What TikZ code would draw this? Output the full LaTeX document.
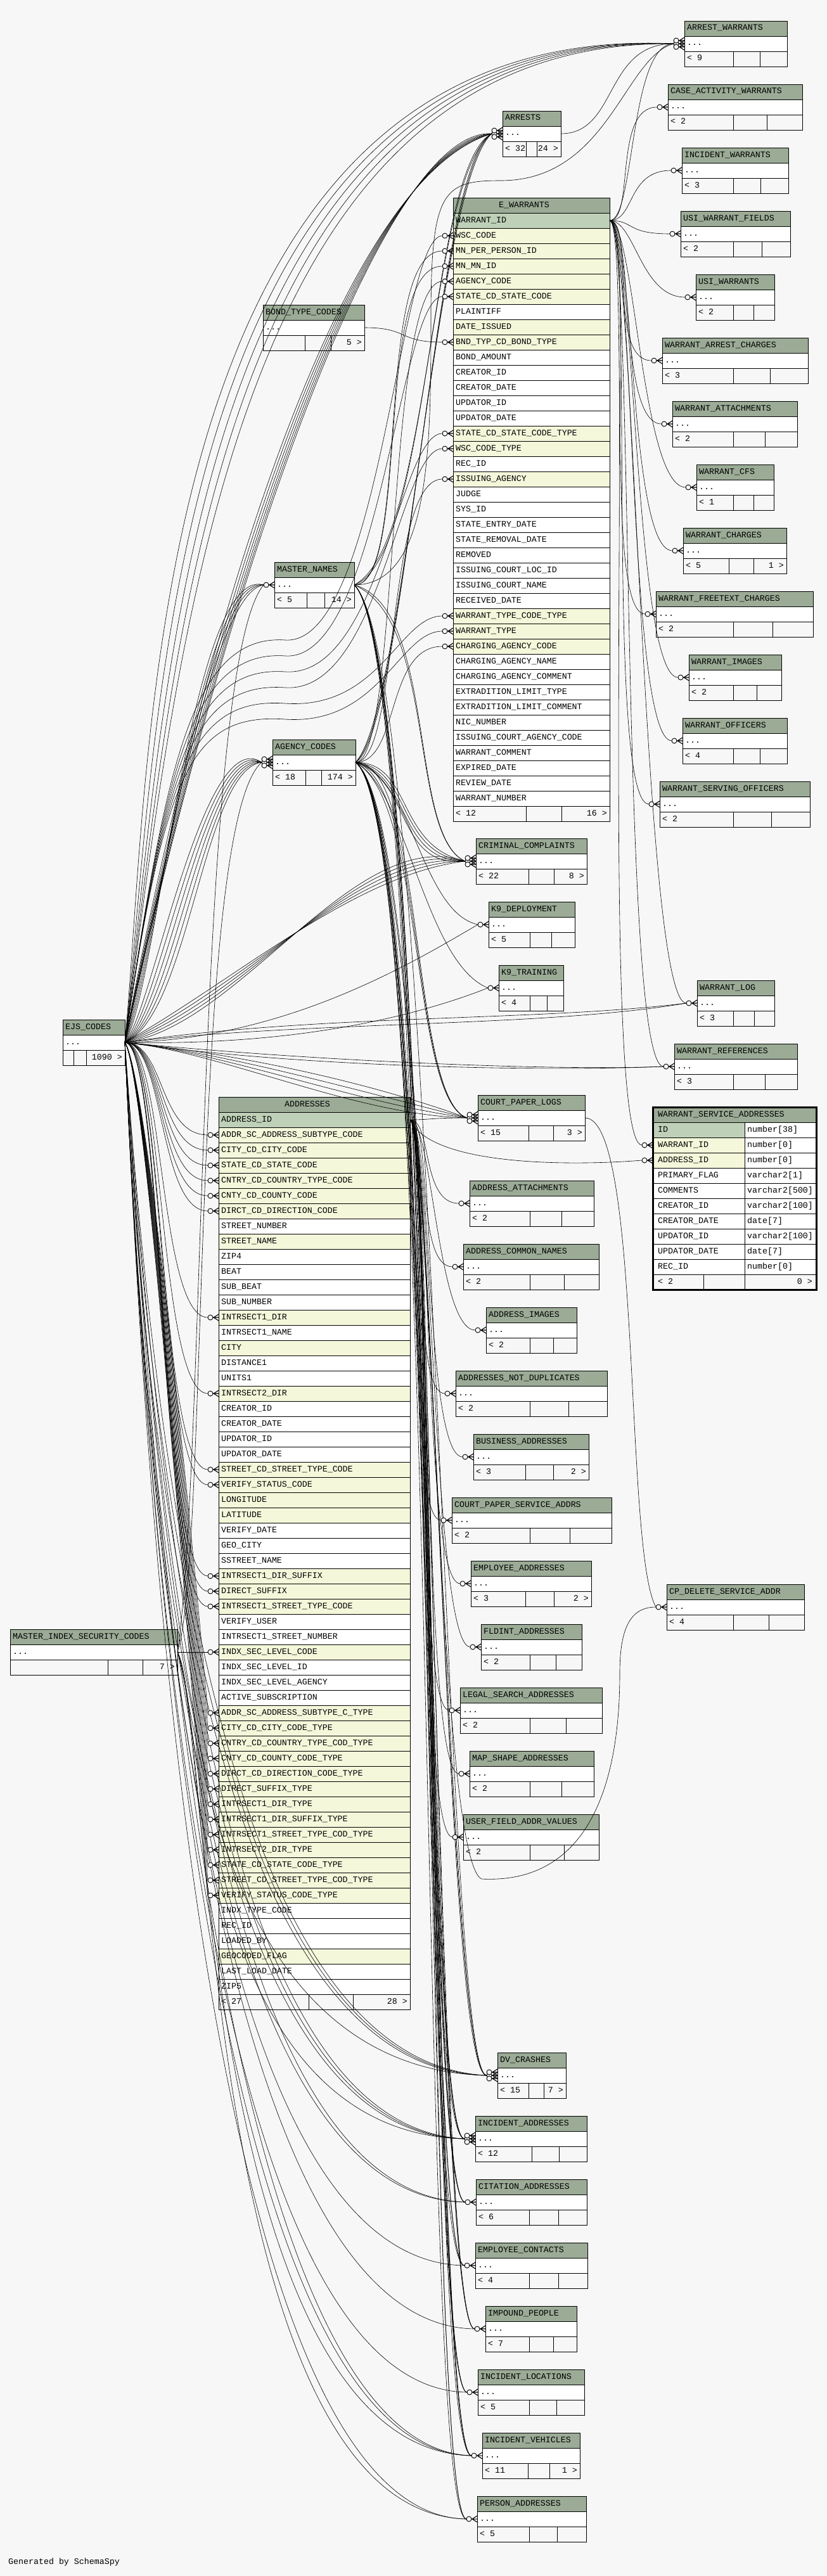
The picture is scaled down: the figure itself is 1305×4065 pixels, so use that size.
\documentclass[tikz,border=0pt]{standalone}
\usepackage{fontspec}
\newfontfamily\erfont{Liberation Mono}

\definecolor{headbg}{HTML}{9BAB96}
\definecolor{pkbg}{HTML}{BED1B8}
\definecolor{idxbg}{HTML}{F4F7DA}
\definecolor{pagebg}{HTML}{F7F7F7}

% collapsed table: name, left, right, top, title, parents, div1, div2, children
\newcommand\minitab[9]{%
  \fill[headbg] (#2,#4) rectangle (#3,#4+24);
  \fill[white] (#2,#4+24) rectangle (#3,#4+48);
  \draw[tabline] (#2,#4) rectangle (#3,#4+72)
    (#2,#4+24) -- (#3,#4+24) (#2,#4+48) -- (#3,#4+48)
    (#7,#4+48) -- (#7,#4+72) (#8,#4+48) -- (#8,#4+72);
  \node[coltext] (#1-title) at (#2+4,#4+15) {#5};
  \node[coltext] (#1-dots) at (#2+4,#4+39) {...};
  \node[coltext] (#1-up) at (#2+4,#4+63) {#6};
  \node[coltext, anchor=base east] (#1-down) at (#3-4,#4+63) {#9};
  \coordinate (#1) at (#2-17,#4+36);
  \coordinate (#1-w) at (#2,#4+36);
  \coordinate (#1-out) at (#3,#4+36);
}

\begin{document}
\begin{tikzpicture}[x=1pt,y=-1pt]
\tikzset{
  tabline/.style={draw=black, line width=0.8pt},
  coltext/.style={anchor=base west, inner sep=0pt, font=\erfont\fontsize{13.3}{15}\selectfont},
  fkline/.style={line width=0.6pt},
  crow/.pic={
    \draw[line width=0.9pt, fill=pagebg] (-13,0) circle[radius=4];
    \draw[line width=1.1pt] (-9,0) -- (0,0) (-8,0) -- (0,-5) (-8,0) -- (0,5);
  }
}
\useasboundingbox (0,0) rectangle (1305,4065);
\fill[pagebg] (0,0) rectangle (1305,4065);

% E_WARRANTS
\fill[headbg] (715,312) rectangle (962,336);
\foreach \c/\f [count=\i] in {WARRANT\_ID/pkbg,WSC\_CODE/idxbg,MN\_PER\_PERSON\_ID/idxbg,MN\_MN\_ID/idxbg,
  AGENCY\_CODE/idxbg,STATE\_CD\_STATE\_CODE/idxbg,PLAINTIFF/white,DATE\_ISSUED/idxbg,
  BND\_TYP\_CD\_BOND\_TYPE/idxbg,BOND\_AMOUNT/white,CREATOR\_ID/white,CREATOR\_DATE/white,
  UPDATOR\_ID/white,UPDATOR\_DATE/white,STATE\_CD\_STATE\_CODE\_TYPE/idxbg,WSC\_CODE\_TYPE/idxbg,
  REC\_ID/white,ISSUING\_AGENCY/idxbg,JUDGE/white,SYS\_ID/white,STATE\_ENTRY\_DATE/white,
  STATE\_REMOVAL\_DATE/white,REMOVED/white,ISSUING\_COURT\_LOC\_ID/white,ISSUING\_COURT\_NAME/white,
  RECEIVED\_DATE/white,WARRANT\_TYPE\_CODE\_TYPE/idxbg,WARRANT\_TYPE/idxbg,CHARGING\_AGENCY\_CODE/idxbg,
  CHARGING\_AGENCY\_NAME/white,CHARGING\_AGENCY\_COMMENT/white,EXTRADITION\_LIMIT\_TYPE/white,
  EXTRADITION\_LIMIT\_COMMENT/white,NIC\_NUMBER/white,ISSUING\_COURT\_AGENCY\_CODE/white,
  WARRANT\_COMMENT/white,EXPIRED\_DATE/white,REVIEW\_DATE/white,WARRANT\_NUMBER/white} {
  \fill[\f] (715,312+24*\i) rectangle (962,336+24*\i);
  \draw[tabline] (715,312+24*\i) -- (962,312+24*\i);
  \node[coltext] (ew-\i) at (719,327+24*\i) {\c};
  \coordinate (ew-\i-w) at (715,324+24*\i);
  \coordinate (ew-\i-in) at (698,324+24*\i);
  \coordinate (ew-\i-e) at (962,324+24*\i);
}
\draw[tabline] (715,312) rectangle (962,1296) (715,1272) -- (962,1272)
  (830,1272) -- (830,1296) (886,1272) -- (886,1296);
\node[coltext, anchor=base] (ew-title) at (827,327) {E\_WARRANTS};
\node[coltext] (ew-up) at (719,1287) {< 12};
\node[coltext, anchor=base east] (ew-down) at (958,1287) {16 >};

% ADDRESSES
\fill[headbg] (345,1731) rectangle (647,1755);
\foreach \c/\f [count=\i] in {ADDRESS\_ID/pkbg,ADDR\_SC\_ADDRESS\_SUBTYPE\_CODE/idxbg,CITY\_CD\_CITY\_CODE/idxbg,
  STATE\_CD\_STATE\_CODE/idxbg,CNTRY\_CD\_COUNTRY\_TYPE\_CODE/idxbg,CNTY\_CD\_COUNTY\_CODE/idxbg,
  DIRCT\_CD\_DIRECTION\_CODE/idxbg,STREET\_NUMBER/white,STREET\_NAME/idxbg,ZIP4/white,BEAT/white,
  SUB\_BEAT/white,SUB\_NUMBER/white,INTRSECT1\_DIR/idxbg,INTRSECT1\_NAME/white,CITY/idxbg,
  DISTANCE1/white,UNITS1/white,INTRSECT2\_DIR/idxbg,CREATOR\_ID/white,CREATOR\_DATE/white,
  UPDATOR\_ID/white,UPDATOR\_DATE/white,STREET\_CD\_STREET\_TYPE\_CODE/idxbg,VERIFY\_STATUS\_CODE/idxbg,
  LONGITUDE/idxbg,LATITUDE/idxbg,VERIFY\_DATE/white,GEO\_CITY/white,SSTREET\_NAME/white,
  INTRSECT1\_DIR\_SUFFIX/idxbg,DIRECT\_SUFFIX/idxbg,INTRSECT1\_STREET\_TYPE\_CODE/idxbg,VERIFY\_USER/white,
  INTRSECT1\_STREET\_NUMBER/white,INDX\_SEC\_LEVEL\_CODE/idxbg,INDX\_SEC\_LEVEL\_ID/white,
  INDX\_SEC\_LEVEL\_AGENCY/white,ACTIVE\_SUBSCRIPTION/white,ADDR\_SC\_ADDRESS\_SUBTYPE\_C\_TYPE/idxbg,
  CITY\_CD\_CITY\_CODE\_TYPE/idxbg,CNTRY\_CD\_COUNTRY\_TYPE\_COD\_TYPE/idxbg,CNTY\_CD\_COUNTY\_CODE\_TYPE/idxbg,
  DIRCT\_CD\_DIRECTION\_CODE\_TYPE/idxbg,DIRECT\_SUFFIX\_TYPE/idxbg,INTRSECT1\_DIR\_TYPE/idxbg,
  INTRSECT1\_DIR\_SUFFIX\_TYPE/idxbg,INTRSECT1\_STREET\_TYPE\_COD\_TYPE/idxbg,INTRSECT2\_DIR\_TYPE/idxbg,
  STATE\_CD\_STATE\_CODE\_TYPE/idxbg,STREET\_CD\_STREET\_TYPE\_COD\_TYPE/idxbg,VERIFY\_STATUS\_CODE\_TYPE/idxbg,
  INDX\_TYPE\_CODE/white,REC\_ID/white,LOADED\_BY/white,GEOCODED\_FLAG/idxbg,LAST\_LOAD\_DATE/white,
  ZIP5/white} {
  \fill[\f] (345,1731+24*\i) rectangle (647,1755+24*\i);
  \draw[tabline] (345,1731+24*\i) -- (647,1731+24*\i);
  \node[coltext] (ad-\i) at (349,1746+24*\i) {\c};
  \coordinate (ad-\i-w) at (345,1743+24*\i);
  \coordinate (ad-\i-in) at (328,1743+24*\i);
  \coordinate (ad-\i-e) at (647,1743+24*\i);
}
\draw[tabline] (345,1731) rectangle (647,3171) (345,3147) -- (647,3147)
  (487,3147) -- (487,3171) (557,3147) -- (557,3171);
\node[coltext, anchor=base] (ad-title) at (485,1746) {ADDRESSES};
\node[coltext] (ad-up) at (349,3162) {< 27};
\node[coltext, anchor=base east] (ad-down) at (643,3162) {28 >};

% WARRANT_SERVICE_ADDRESSES
\fill[headbg] (1030,1747) rectangle (1288,1771);
\foreach \c/\d/\f [count=\i] in {ID/number[38]/pkbg,WARRANT\_ID/number[0]/idxbg,ADDRESS\_ID/number[0]/idxbg,
  PRIMARY\_FLAG/varchar2[1]/white,COMMENTS/varchar2[500]/white,CREATOR\_ID/varchar2[100]/white,
  CREATOR\_DATE/date[7]/white,UPDATOR\_ID/varchar2[100]/white,UPDATOR\_DATE/date[7]/white,
  REC\_ID/number[0]/white} {
  \fill[\f] (1030,1747+24*\i) rectangle (1175,1771+24*\i);
  \fill[white] (1175,1747+24*\i) rectangle (1288,1771+24*\i);
  \draw[tabline] (1030,1747+24*\i) -- (1288,1747+24*\i);
  \node[coltext] (wsa-\i) at (1038,1762+24*\i) {\c};
  \node[coltext] (wsa-\i-type) at (1179,1762+24*\i) {\d};
  \coordinate (wsa-\i-w) at (1030,1759+24*\i);
  \coordinate (wsa-\i-in) at (1013,1759+24*\i);
}
\draw[tabline] (1175,1771) -- (1175,2035) (1030,2011) -- (1288,2011) (1110,2011) -- (1110,2035);
\draw[line width=3pt] (1030,1747) rectangle (1288,2035);
\node[coltext] (wsa-title) at (1038,1762) {WARRANT\_SERVICE\_ADDRESSES};
\node[coltext] (wsa-up) at (1038,2026) {< 2};
\node[coltext, anchor=base east] (wsa-down) at (1282,2026) {0 >};

% collapsed tables
\minitab{arrestwarrants}{1080}{1242}{33}{ARREST\_WARRANTS}{< 9}{1157}{1199}{}
\minitab{caseactivity}{1054}{1266}{133}{CASE\_ACTIVITY\_WARRANTS}{< 2}{1157}{1210}{}
\minitab{arrests}{793}{885}{175}{ARRESTS}{< 32}{830}{847}{24 >}
\minitab{incidentwarrants}{1076}{1244}{233}{INCIDENT\_WARRANTS}{< 3}{1157}{1200}{}
\minitab{usifields}{1074}{1247}{333}{USI\_WARRANT\_FIELDS}{< 2}{1157}{1202}{}
\minitab{usiwarrants}{1098}{1222}{433}{USI\_WARRANTS}{< 2}{1157}{1189}{}
\minitab{warrestcharges}{1045}{1275}{533}{WARRANT\_ARREST\_CHARGES}{< 3}{1157}{1215}{}
\minitab{wattachments}{1061}{1258}{633}{WARRANT\_ATTACHMENTS}{< 2}{1157}{1207}{}
\minitab{wcfs}{1099}{1221}{733}{WARRANT\_CFS}{< 1}{1157}{1189}{}
\minitab{wcharges}{1078}{1241}{833}{WARRANT\_CHARGES}{< 5}{1150}{1189}{1 >}
\minitab{wfreetext}{1035}{1283}{933}{WARRANT\_FREETEXT\_CHARGES}{< 2}{1157}{1219}{}
\minitab{wimages}{1087}{1233}{1033}{WARRANT\_IMAGES}{< 2}{1157}{1194}{}
\minitab{wofficers}{1077}{1242}{1133}{WARRANT\_OFFICERS}{< 4}{1157}{1199}{}
\minitab{wserving}{1041}{1278}{1233}{WARRANT\_SERVING\_OFFICERS}{< 2}{1157}{1217}{}
\minitab{bondtype}{415}{575}{481}{BOND\_TYPE\_CODES}{}{481}{522}{5 >}
\minitab{mastername}{433}{559}{887}{MASTER\_NAMES}{< 5}{484}{512}{14 >}
\minitab{agencycodes}{430}{561}{1167}{AGENCY\_CODES}{< 18}{482}{507}{174 >}
\minitab{crimcomplaints}{751}{926}{1323}{CRIMINAL\_COMPLAINTS}{< 22}{834}{874}{8 >}
\minitab{k9deploy}{771}{907}{1423}{K9\_DEPLOYMENT}{< 5}{836}{870}{}
\minitab{k9train}{787}{889}{1523}{K9\_TRAINING}{< 4}{836}{863}{}
\minitab{wlog}{1100}{1222}{1547}{WARRANT\_LOG}{< 3}{1157}{1190}{}
\minitab{wrefs}{1064}{1258}{1647}{WARRANT\_REFERENCES}{< 3}{1157}{1207}{}
\minitab{ejscodes}{99}{197}{1609}{EJS\_CODES}{}{116}{136}{1090 >}
\minitab{courtpaperlogs}{754}{923}{1728}{COURT\_PAPER\_LOGS}{< 15}{834}{873}{3 >}
\minitab{addrattach}{741}{937}{1863}{ADDRESS\_ATTACHMENTS}{< 2}{836}{886}{}
\minitab{addrcommon}{731}{945}{1963}{ADDRESS\_COMMON\_NAMES}{< 2}{836}{890}{}
\minitab{addrimages}{767}{910}{2063}{ADDRESS\_IMAGES}{< 2}{836}{873}{}
\minitab{addrnotdup}{719}{958}{2163}{ADDRESSES\_NOT\_DUPLICATES}{< 2}{836}{897}{}
\minitab{bizaddr}{747}{929}{2263}{BUSINESS\_ADDRESSES}{< 3}{829}{873}{2 >}
\minitab{cpsa}{713}{965}{2363}{COURT\_PAPER\_SERVICE\_ADDRS}{< 2}{836}{899}{}
\minitab{empaddr}{743}{933}{2463}{EMPLOYEE\_ADDRESSES}{< 3}{829}{874}{2 >}
\minitab{fldint}{759}{918}{2563}{FLDINT\_ADDRESSES}{< 2}{836}{877}{}
\minitab{legalsearch}{726}{950}{2663}{LEGAL\_SEARCH\_ADDRESSES}{< 2}{836}{893}{}
\minitab{mapshape}{741}{937}{2763}{MAP\_SHAPE\_ADDRESSES}{< 2}{836}{886}{}
\minitab{userfield}{731}{945}{2863}{USER\_FIELD\_ADDR\_VALUES}{< 2}{836}{890}{}
\minitab{cpdelete}{1052}{1269}{2500}{CP\_DELETE\_SERVICE\_ADDR}{< 4}{1157}{1213}{}
\minitab{masterindex}{16}{280}{2571}{MASTER\_INDEX\_SECURITY\_CODES}{}{170}{225}{7 >}
\minitab{dvcrashes}{785}{893}{3239}{DV\_CRASHES}{< 15}{834}{858}{7 >}
\minitab{incaddr}{750}{926}{3339}{INCIDENT\_ADDRESSES}{< 12}{839}{882}{}
\minitab{citaddr}{751}{926}{3439}{CITATION\_ADDRESSES}{< 6}{835}{881}{}
\minitab{empcontacts}{750}{927}{3539}{EMPLOYEE\_CONTACTS}{< 4}{835}{881}{}
\minitab{impound}{766}{910}{3639}{IMPOUND\_PEOPLE}{< 7}{835}{873}{}
\minitab{incloc}{754}{922}{3739}{INCIDENT\_LOCATIONS}{< 5}{835}{878}{}
\minitab{incveh}{761}{915}{3839}{INCIDENT\_VEHICLES}{< 11}{833}{867}{1 >}
\minitab{personaddr}{753}{925}{3939}{PERSON\_ADDRESSES}{< 5}{835}{879}{}

% warrant children
\foreach \t in {arrestwarrants,caseactivity,incidentwarrants,usifields,usiwarrants,warrestcharges,
  wattachments,wcfs,wcharges,wfreetext,wimages,wofficers,wserving,wlog,wrefs,wsa-2-in}
  \draw[fkline] (ew-1-e) .. controls +(40,0) and +(-70,0) .. (\t);
\draw[fkline] (arrests-out) .. controls +(90,0) and +(-110,0) .. (arrestwarrants);

% address children
\foreach \t in {courtpaperlogs,addrattach,addrcommon,addrimages,addrnotdup,bizaddr,cpsa,empaddr,fldint,
  legalsearch,mapshape,userfield,dvcrashes,incaddr,citaddr,empcontacts,impound,incloc,incveh,personaddr}
  \draw[fkline] (ad-1-e) .. controls +(35,0) and +(-60,0) .. (\t);
\draw[fkline] (ad-1-e) .. controls (680,1840) and (900,1840) .. (wsa-3-in);
\draw[fkline] (ad-1-e) .. controls +(35,0) and (690,2935) .. (760,2965)
  .. controls (960,2975) and (978,2750) .. (978,2640) .. controls (978,2560) and (1000,2536) .. (cpdelete);
\draw[fkline] (courtpaperlogs-out) .. controls +(90,0) and +(-50,-90) .. (cpdelete);

% code tables into e_warrants
\draw[fkline] (bondtype-out) .. controls +(70,0) and +(-70,0) .. (ew-9-in);
\foreach \r in {3,4}
  \draw[fkline] (mastername-out) .. controls +(90,0) and +(-110,0) .. (ew-\r-in);
\foreach \r in {5,18,29}
  \draw[fkline] (agencycodes-out) .. controls +(70,0) and +(-90,0) .. (ew-\r-in);
\foreach \r/\k in {2/0,6/1,15/2,16/3,27/4,28/5}
  \draw[fkline] (ejscodes-out) .. controls (260,1220) and (300,1000+25*\k) .. (450,1010+25*\k)
    .. controls (600,1020+25*\k) and (630,324+24*\r) .. (ew-\r-in);

% ejs codes
\foreach \k in {0,...,4}
  \draw[fkline] (ejscodes-out) .. controls (240+12*\k,1200-60*\k) and (220+40*\k,30+8*\k) .. (arrestwarrants);
\foreach \k in {0,...,5}
  \draw[fkline] (ejscodes-out) .. controls (260+20*\k,1300-80*\k) and (480+25*\k,300-20*\k) .. (arrests);
\foreach \k in {0,...,3}
  \draw[fkline] (ejscodes-out) .. controls (250,1560-40*\k) and (300+10*\k,890+15*\k) .. (mastername);
\foreach \k in {0,...,5}
  \draw[fkline] (ejscodes-out) .. controls (240+12*\k,1600) and (320,1140+15*\k) .. (agencycodes);
\foreach \k in {0,...,4}
  \draw[fkline] (ejscodes-out) .. controls (380,1620-20*\k) and (560,1300+20*\k) .. (crimcomplaints);
\draw[fkline] (ejscodes-out) .. controls (450,1640) and (650,1520) .. (k9deploy);
\draw[fkline] (ejscodes-out) .. controls (450,1650) and (640,1610) .. (k9train);
\foreach \k in {0,1}
  \draw[fkline] (ejscodes-out) .. controls (500,1600+10*\k) and (850,1612+10*\k) .. (wlog);
\foreach \k in {0,1}
  \draw[fkline] (ejscodes-out) .. controls (500,1675+12*\k) and (880,1690) .. (wrefs);
\foreach \k in {0,...,3}
  \draw[fkline] (ejscodes-out) .. controls (350,1660) and (560,1700+20*\k) .. (courtpaperlogs);
\foreach \r in {2,3,4,5,6,7,14,19,24,25,31,32,33}
  \draw[fkline] (ejscodes-out) .. controls (260,1645) and (250,1743+24*\r) .. (ad-\r-in);
\foreach \r in {40,...,52}
  \draw[fkline] (ejscodes-out) .. controls (235,1700) and +(-12,-140) .. (ad-\r-in);
\foreach \t/\n in {dvcrashes/3,incaddr/3,citaddr/2,empcontacts/1,impound/1,incloc/1,incveh/2,personaddr/1}
  \foreach \k in {1,...,\n}
    \draw[fkline] (ejscodes-out) .. controls (215+15*\k,2300+80*\k) and +(-440+25*\k,-6*\k) .. (\t);

% agency codes
\foreach \k in {0,1,2}
  \draw[fkline] (agencycodes-out) .. controls (640,1160-20*\k) and +(-90,40+20*\k) .. (arrests);
\foreach \k in {0,...,3}
  \draw[fkline] (agencycodes-out) .. controls +(90,10*\k) and +(-110,-25+12*\k) .. (crimcomplaints);
\draw[fkline] (agencycodes-out) .. controls +(90,20) and +(-90,-20) .. (k9deploy);
\draw[fkline] (agencycodes-out) .. controls +(80,40) and +(-100,-40) .. (k9train);
\foreach \k in {0,1,2}
  \draw[fkline] (agencycodes-out) .. controls +(110,30*\k) and +(-90,-30) .. (courtpaperlogs);
\foreach \t/\k in {dvcrashes/0,dvcrashes/1,incaddr/0,incaddr/1,citaddr/0,impound/0,incveh/0,incveh/1,
  empcontacts/1,incloc/0,personaddr/1}
  \draw[fkline] (agencycodes-out) .. controls (690+6*\k,1300) and +(-70-8*\k,-4*\k) .. (\t);

% master names
\draw[fkline] (mastername-out) .. controls (680,923) and (680,700) .. (680,500)
  .. controls (680,300) and (700,285) .. (790,285)
  .. controls (960,285) and (985,90) .. (arrestwarrants);
\foreach \k in {0,1}
  \draw[fkline] (mastername-out) .. controls (680,880-20*\k) and +(-100,50+20*\k) .. (arrests);
\foreach \k in {0,1}
  \draw[fkline] (mastername-out) .. controls (690,960+20*\k) and +(-90,-40) .. (crimcomplaints);
\foreach \t in {dvcrashes,incaddr,citaddr,impound,incveh,personaddr,empcontacts,incloc}
  \draw[fkline] (mastername-out) .. controls (690,1050) and +(-70,0) .. (\t);

% master index security codes
\draw[fkline] (masterindex-out) .. controls +(20,0) and +(-20,0) .. (ad-36-in);
\draw[fkline] (masterindex-out) .. controls (330,2450) and (300,1300) .. (agencycodes);
\draw[fkline] (masterindex-out) .. controls (325,2300) and (310,1050) .. (mastername);
\foreach \t/\k in {dvcrashes/0,incaddr/1,incveh/2,personaddr/3}
  \draw[fkline] (masterindex-out) .. controls (310+8*\k,2700) and +(-420,-10) .. (\t);

% crow's feet
\foreach \t in {arrestwarrants,caseactivity,arrests,incidentwarrants,usifields,usiwarrants,warrestcharges,
  wattachments,wcfs,wcharges,wfreetext,wimages,wofficers,wserving,mastername,agencycodes,crimcomplaints,
  k9deploy,k9train,wlog,wrefs,courtpaperlogs,addrattach,addrcommon,addrimages,addrnotdup,bizaddr,cpsa,
  empaddr,fldint,legalsearch,mapshape,userfield,cpdelete,dvcrashes,incaddr,citaddr,empcontacts,impound,
  incloc,incveh,personaddr}
  \pic at (\t-w) {crow};
\foreach \t in {arrests,crimcomplaints,dvcrashes,incaddr,courtpaperlogs,agencycodes,arrestwarrants}
  \foreach \s in {-5,5}
    \pic[shift={(0,\s)}] at (\t-w) {crow};
\foreach \r in {2,3,4,5,6,9,15,16,18,27,28,29}
  \pic at (ew-\r-w) {crow};
\foreach \r in {2,3,4,5,6,7,14,19,24,25,31,32,33,36,40,41,42,43,44,45,46,47,48,49,50,51,52}
  \pic at (ad-\r-w) {crow};
\foreach \r in {2,3}
  \pic at (wsa-\r-w) {crow};

\node[coltext] (credit) at (13,4046) {Generated by SchemaSpy};
\end{tikzpicture}
\end{document}
